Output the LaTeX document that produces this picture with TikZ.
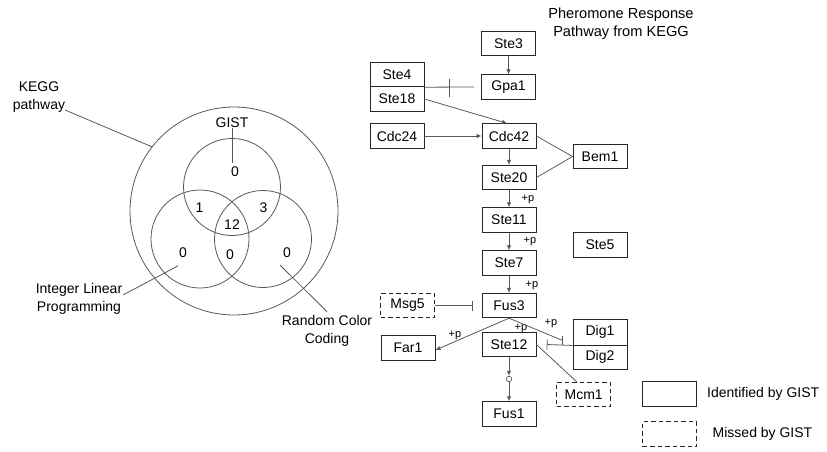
\documentclass[tikz,border=0pt]{standalone}
\usepackage{fontspec}
\setmainfont{Liberation Sans}
\usetikzlibrary{arrows.meta,calc}
\begin{document}
\begin{tikzpicture}[x=1pt,y=-1pt,
  font=\fontsize{14}{18}\selectfont,
  gene/.style={draw=black!85,line width=0.9pt,minimum width=54pt,minimum height=24.5pt,inner sep=0pt,text=black},
  missed/.style={gene,dash pattern=on 4.5pt off 3pt},
  conn/.style={draw=black!65,line width=0.8pt},
  arr/.style={conn,-{Latex[length=5pt,width=4.5pt]}},
  inh/.style={conn,-{Bar[width=10pt,line width=0.8pt]}},
  pl/.style={font=\fontsize{11}{12}\selectfont,inner sep=0pt,text=black},
  lbl/.style={align=center,inner sep=0pt,text=black},
  vc/.style={draw=black!65,line width=0.8pt,circle,inner sep=0pt}
]
\useasboundingbox (0,0) rectangle (827,452);

% ---------------- Venn diagram ----------------
\node[vc,minimum size=208pt] (kegg) at (234,211) {};
\node[vc,minimum size=97pt] (gist) at (232,187) {};
\node[vc,minimum size=98pt] (ilp) at (200,239) {};
\node[vc,minimum size=97pt] (rcc) at (263,239) {};

\node[lbl] (v0a) at (235,172) {0};
\node[lbl] (v1) at (199.5,208) {1};
\node[lbl] (v3) at (263.5,208) {3};
\node[lbl] (v12) at (232,225) {12};
\node[lbl] (v0l) at (183,253) {0};
\node[lbl] (v0m) at (230,255) {0};
\node[lbl] (v0r) at (287,253) {0};

\node[lbl] (gistlbl) at (232,123) {GIST};
\coordinate (gistend) at (232,163);
\draw[conn] (gistlbl.south) -- (gistend);

\node[lbl] (kegglbl) at (39,97.5) {KEGG\\pathway};
\coordinate (keggstart) at (65,110);
\draw[conn] (keggstart) -- (kegg.142);

\node[lbl] (ilplbl) at (79,299) {Integer Linear\\Programming};
\coordinate (ilpstart) at (123,295);
\coordinate (ilpend) at (178.3,265.7);
\draw[conn] (ilpstart) -- (ilpend);

\node[lbl] (rcclbl) at (327,331) {Random Color\\Coding};
\coordinate (rccstart) at (280,265);
\coordinate (rccend) at (327,311.7);
\draw[conn] (rccstart) -- (rccend);

% ---------------- Pathway ----------------
\node[lbl,font=\fontsize{14.6}{18}\selectfont] (title) at (621,24) {Pheromone Response\\Pathway from KEGG};

\node[gene] (ste3) at (508.5,43.5) {Ste3};
\node[gene] (gpa1) at (508.5,87) {Gpa1};
\node[gene] (ste4) at (397,74.5) {Ste4};
\node[gene] (ste18) at (397,99) {Ste18};
\node[gene] (cdc24) at (397,136) {Cdc24};
\node[gene] (cdc42) at (509,136) {Cdc42};
\node[gene] (bem1) at (600,156.5) {Bem1};
\node[gene] (ste20) at (509,177.5) {Ste20};
\node[gene] (ste11) at (509,220) {Ste11};
\node[gene] (ste5) at (600,245) {Ste5};
\node[gene] (ste7) at (509,263) {Ste7};
\node[gene] (fus3) at (509,305.5) {Fus3};
\node[missed] (msg5) at (407.5,305.5) {Msg5};
\node[gene] (far1) at (408,348) {Far1};
\node[gene] (ste12) at (509,344.5) {Ste12};
\node[gene,minimum height=26pt] (dig1) at (600,332) {Dig1};
\node[gene] (dig2) at (600,357.25) {Dig2};
\node[missed] (mcm1) at (583.7,394.5) {Mcm1};
\node[gene] (fus1) at (509,414) {Fus1};
\node[circle,draw=black!65,line width=0.7pt,minimum size=5.5pt,inner sep=0pt,fill=white] (dot) at (509,379) {};

\draw[arr] (ste3) -- (gpa1);
\coordinate (gpainh) at (474,87);
\coordinate (gpabar) at (449,87);
\draw[conn] (ste4.south east) -- (gpainh);
\draw[conn] ($(gpabar)+(0,-8)$) -- ($(gpabar)+(0,10)$);
\draw[arr] (ste18.east) -- ($(cdc42.north)+(-2,0)$);
\draw[arr] (cdc24) -- (cdc42);
\draw[arr] (cdc42) -- (ste20);
\draw[conn] (cdc42.east) -- (bem1.west);
\draw[conn] (ste20.east) -- (bem1.west);
\draw[arr] (ste20) -- (ste11);
\node[pl] (p1) at (528,199) {+p};
\draw[arr] (ste11) -- (ste7);
\node[pl] (p2) at (530,241) {+p};
\draw[arr] (ste7) -- (fus3);
\node[pl] (p3) at (532,285) {+p};

\coordinate (msginh) at (473,305.5);
\draw[inh] (msg5.east) -- (msginh);

\draw[arr] (fus3.south) -- ($(far1.east)+(0,2)$);
\node[pl] (p4) at (455,335) {+p};
\node[pl] (p5) at (521,328) {+p};

\coordinate (diginh) at (562.7,340.5);
\draw[conn] (fus3.south) -- (diginh);
\draw[conn] ($(diginh)+(0,-5)$) -- ($(diginh)+(0,4)$);
\node[pl] (p6) at (551,323) {+p};

\coordinate (steinh) at (546.7,344.5);
\draw[inh] (dig1.south west) -- (steinh);

\draw[conn] (ste12.east) -- ($(mcm1.north)+(-7,0)$);
\draw[arr] (ste12) -- (dot);
\draw[arr] (dot) -- (fus1);

% ---------------- Legend ----------------
\node[gene,minimum height=25.5pt] (legid) at (669.7,394) {};
\node[missed,minimum height=25pt] (legmiss) at (669.7,434) {};
\node[lbl,anchor=west] (legidt) at (707,393.5) {Identified by GIST};
\node[lbl,anchor=west] (legmisst) at (712.5,433.5) {Missed by GIST};
\end{tikzpicture}
\end{document}
